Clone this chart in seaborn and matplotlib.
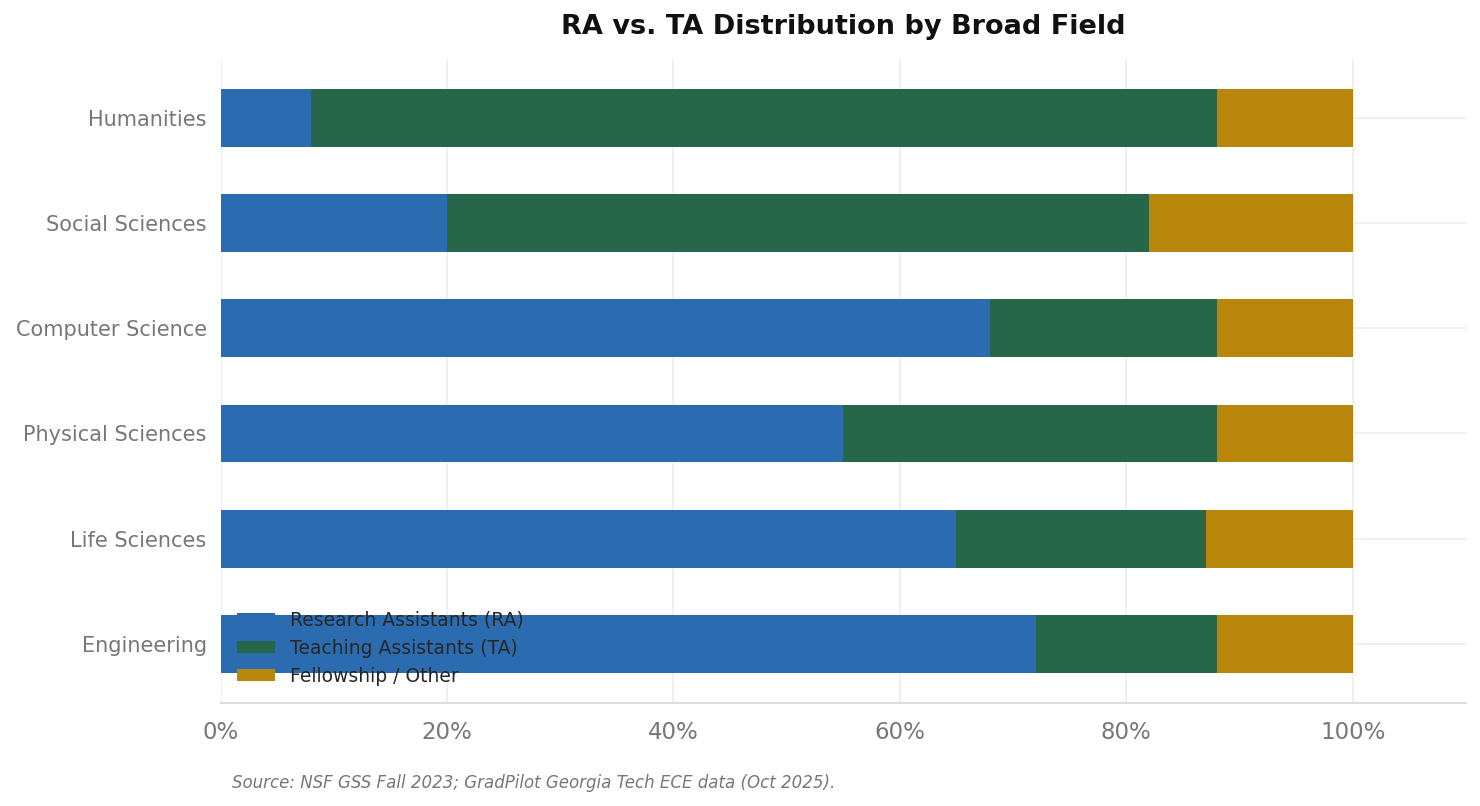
import pandas as pd
import seaborn as sns
import matplotlib.pyplot as plt
from matplotlib.ticker import PercentFormatter

fields = ['Humanities', 'Social Sciences', 'Computer Science',
          'Physical Sciences', 'Life Sciences', 'Engineering']
ra_pct = [8, 20, 68, 55, 65, 72]
ta_pct = [80, 62, 20, 33, 22, 16]
other_pct = [12, 18, 12, 12, 13, 12]

series_names = ['Research Assistants (RA)', 'Teaching Assistants (TA)', 'Fellowship / Other']
colors = ['#2b6cb0', '#276749', '#b7860b']

df = pd.DataFrame({'Field': fields, 'RA': ra_pct, 'TA': ta_pct, 'Other': other_pct})
df['RA_TA'] = df['RA'] + df['TA']
df['Total'] = df['RA_TA'] + df['Other']

sns.set_style('white')
fig = plt.figure(figsize=(14.8, 8.06), dpi=100)
ax = fig.add_axes([0.149, 0.128, 0.8415, 0.799])

# stacked bars: draw cumulative totals back to front
for col, c, name in [('Total', colors[2], series_names[2]),
                     ('RA_TA', colors[1], series_names[1]),
                     ('RA', colors[0], series_names[0])]:
    sns.barplot(data=df, y='Field', x=col, order=fields, color=c,
                width=0.55, saturation=1, label=name, ax=ax, zorder=3,
                linewidth=0, edgecolor='none')

ax.set_xlim(0, 110)
ax.set_ylim(5.56, -0.56)
ax.set_xticks([0, 20, 40, 60, 80, 100])
ax.xaxis.set_major_formatter(PercentFormatter(decimals=0))
ax.set_xlabel('')
ax.set_ylabel('')
ax.grid(True, color='#eeeeee', linewidth=1.2, zorder=0)
ax.set_axisbelow(True)
for s in ['top', 'right', 'left']:
    ax.spines[s].set_visible(False)
ax.spines['bottom'].set_color('#dddddd')
ax.spines['bottom'].set_linewidth(1.5)
ax.tick_params(axis='both', colors='#777777', length=5, width=1,
               labelcolor='#777777')
ax.tick_params(axis='y', labelsize=15, pad=5)
ax.tick_params(axis='x', labelsize=16.5, pad=8)

handles, labels = ax.get_legend_handles_labels()
handles, labels = handles[::-1], labels[::-1]
ax.legend(handles, labels, loc='lower left', frameon=False, fontsize=13.5,
          bbox_to_anchor=(0.0, 0.0), handlelength=2.0, handleheight=0.6,
          labelspacing=0.48)

ax.set_title('RA vs. TA Distribution by Broad Field', fontsize=19.5,
             fontweight='bold', color='#111111', pad=18)
fig.text(0.157, 0.022, 'Source: NSF GSS Fall 2023; GradPilot Georgia Tech ECE data (Oct 2025).',
         fontsize=12, style='italic', color='#777777')

fig.savefig('out.png', dpi=100)
